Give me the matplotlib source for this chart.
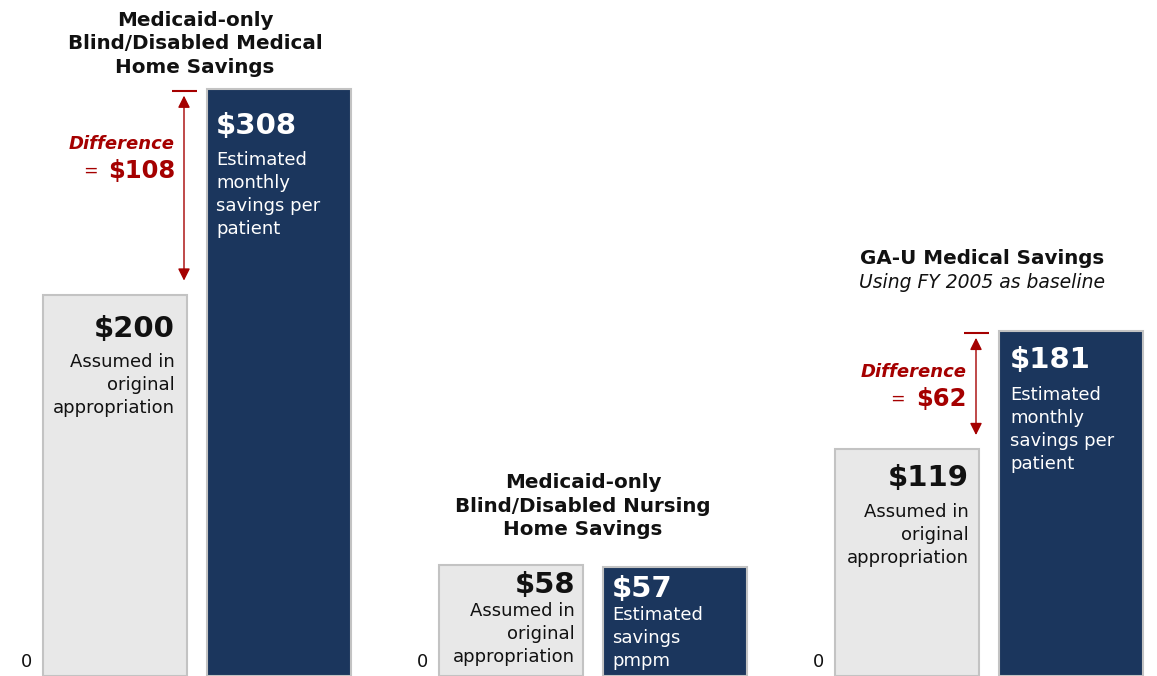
import numpy as np
import matplotlib.pyplot as plt

# values (monthly savings per patient, $)
panel_titles = ["Medicaid-only\nBlind/Disabled Medical\nHome Savings",
                "Medicaid-only\nBlind/Disabled Nursing\nHome Savings",
                "GA-U Medical Savings"]
panel_subtitles = ["", "", "Using FY 2005 as baseline"]
assumed = [200, 58, 119]
estimated = [308, 57, 181]
assumed_desc = ["Assumed in\noriginal\nappropriation"] * 3
estimated_desc = ["Estimated\nmonthly\nsavings per\npatient",
                  "Estimated\nsavings\npmpm",
                  "Estimated\nmonthly\nsavings per\npatient"]
show_difference = [True, False, True]

W, H = 1157, 676
PX_PER_UNIT = 1.907
NAVY = "#1b365d"
GRAY = "#e8e8e8"
EDGE = "#c3c3c3"
RED = "#a50000"
TXT = "#111111"

plt.rcParams['font.family'] = ['DejaVu Sans']


def px(d):
    # pixels -> points at 100 dpi
    return d * 0.72


fig = plt.figure(figsize=(W / 100, H / 100), dpi=100)
ax = fig.add_axes([0, 0, 1, 1])
ax.set_xlim(0, W)
ax.set_ylim(0, H / PX_PER_UNIT)
ax.axis('off')

# layout (pixels)
gray_left = [43, 439, 835]
bar_w = 144
gap = 20
zero_x = [26, 423, 818]
title_x = [195, 583, 982]
title_dy = [12, 26, 60]
val_dy = [[34, 37], [20, 22], [29, 29]]
desc_dy = [[69, 73], [48, 50], [65, 66]]
gray_pad = [12, 8, 10]
navy_pad = [9, 9, 11]

for i in range(3):
    gx = gray_left[i] + bar_w / 2
    nx = gray_left[i] + bar_w + gap + bar_w / 2
    ax.bar(gx, assumed[i], width=bar_w, color=GRAY, edgecolor=EDGE, linewidth=1.5)
    ax.bar(nx, estimated[i], width=bar_w, color=NAVY, edgecolor=EDGE, linewidth=1.5)

    # zero label
    ax.annotate("0", (zero_x[i], 0), xytext=(0, px(14)), textcoords='offset points',
                ha='center', va='center', fontsize=13, color=TXT)

    # gray bar labels (right aligned)
    gr = gray_left[i] + bar_w - gray_pad[i]
    ax.annotate(f"${assumed[i]}", (gr, assumed[i]), xytext=(0, -px(val_dy[i][0])),
                textcoords='offset points', ha='right', va='center',
                fontsize=21, fontweight='bold', color=TXT)
    ax.annotate(assumed_desc[i], (gr, assumed[i]), xytext=(0, -px(desc_dy[i][0] - 11)),
                textcoords='offset points', ha='right', va='top',
                fontsize=13, color=TXT, linespacing=1.36)

    # navy bar labels (left aligned)
    nl = gray_left[i] + bar_w + gap + navy_pad[i]
    ax.annotate(f"${estimated[i]}", (nl, estimated[i]), xytext=(0, -px(val_dy[i][1])),
                textcoords='offset points', ha='left', va='center',
                fontsize=21, fontweight='bold', color='white')
    ax.annotate(estimated_desc[i], (nl, estimated[i]), xytext=(0, -px(desc_dy[i][1] - 11)),
                textcoords='offset points', ha='left', va='top',
                fontsize=13, color='white', linespacing=1.36)

    # titles
    top = max(assumed[i], estimated[i])
    if panel_subtitles[i]:
        ax.annotate(panel_titles[i], (title_x[i], top),
                    xytext=(0, px(title_dy[i] + 12)), textcoords='offset points',
                    ha='center', va='center', fontsize=14.3, fontweight='bold', color=TXT)
        ax.annotate(panel_subtitles[i], (title_x[i], top),
                    xytext=(0, px(title_dy[i] - 12)), textcoords='offset points',
                    ha='center', va='center', fontsize=13.5, style='italic', color=TXT)
    else:
        ax.annotate(panel_titles[i], (title_x[i], top), xytext=(0, px(title_dy[i])),
                    textcoords='offset points', ha='center', va='bottom',
                    fontsize=14.3, fontweight='bold', color=TXT, linespacing=1.3)

    # difference arrow
    if show_difference[i]:
        ax_x = gray_left[i] + bar_w - 3
        diff = estimated[i] - assumed[i]
        ax.plot([ax_x - 12, ax_x + 13], [estimated[i] - 1, estimated[i] - 1],
                color=RED, lw=1.5, solid_capstyle='butt')
        ax.annotate('', xy=(ax_x, assumed[i]), xytext=(ax_x, estimated[i]),
                    arrowprops=dict(arrowstyle='<|-|>', color=RED, lw=1,
                                    mutation_scale=18,
                                    shrinkA=px(7), shrinkB=px(14)))
        tx = ax_x - 9
        top_y = estimated[i]
        dl_dy = [55, 0, 41][i]
        ax.annotate("Difference", (tx, top_y), xytext=(0, -px(dl_dy)),
                    textcoords='offset points', ha='right', va='center',
                    fontsize=13, fontweight='bold', style='italic', color=RED)
        ax.annotate(f"${diff}", (tx, top_y), xytext=(0, -px(dl_dy + 27)),
                    textcoords='offset points', ha='right', va='center',
                    fontsize=17.5, fontweight='bold', color=RED)
        w = {108: 77, 62: 62}[diff]
        ax.annotate("=", (tx, top_y), xytext=(-px(w), -px(dl_dy + 27)),
                    textcoords='offset points', ha='right', va='center',
                    fontsize=12.5, color=RED)

fig.savefig("out.png", dpi=100)
